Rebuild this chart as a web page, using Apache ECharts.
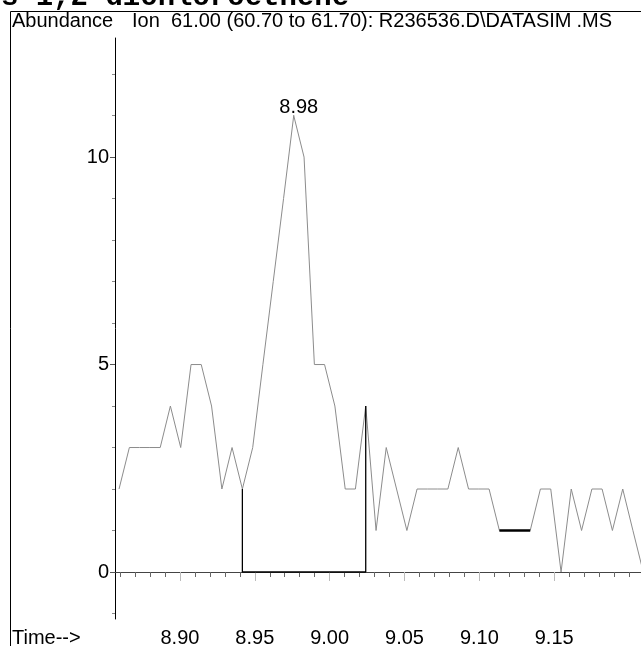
<!DOCTYPE html>
<html>
<head>
<meta charset="utf-8">
<script src="https://cdn.jsdelivr.net/npm/echarts@6/dist/echarts.min.js"></script>
<style>
  html, body { margin: 0; padding: 0; background: #fff; }
  #chart { width: 641px; height: 646px; }
</style>
</head>
<body>
<div id="chart"></div>
<script>
// Extracted ion chromatogram, m/z 61.00 (60.70 to 61.70)
const scanTimes = [
  8.8593, 8.8662, 8.8730, 8.8799, 8.8868, 8.8936, 8.9005, 8.9074, 8.9142, 8.9211,
  8.9280, 8.9348, 8.9417, 8.9486, 8.9554, 8.9623, 8.9692, 8.9760, 8.9829, 8.9898,
  8.9966, 9.0035, 9.0104, 9.0172, 9.0241, 9.0310, 9.0378, 9.0447, 9.0516, 9.0584,
  9.0653, 9.0722, 9.0790, 9.0859, 9.0928, 9.0996, 9.1065, 9.1134, 9.1202, 9.1271,
  9.1340, 9.1408, 9.1477, 9.1546, 9.1614, 9.1683, 9.1752, 9.1820, 9.1889, 9.1958,
  9.2026, 9.2095
];
const abundance = [
  2, 3, 3, 3, 3, 4, 3, 5, 5, 4,
  2, 3, 2, 3, 5, 7, 9, 11, 10, 5,
  5, 4, 2, 2, 4, 1, 3, 2, 1, 2,
  2, 2, 2, 3, 2, 2, 2, 1, 1, 1,
  1, 2, 2, 0, 2, 1, 2, 2, 1, 2,
  1, 0
];

// Integrated peak: start/end scan indices of the baseline drop lines
const peakStartIndex = 12;
const peakEndIndex = 24;
// Second baseline segment (small event after 9.10 min)
const minorStartIndex = 37;
const minorEndIndex = 40;

const xTickLabels = ['8.90', '8.95', '9.00', '9.05', '9.10', '9.15'];
const yTickLabels = [0, 5, 10];

const xMin = 8.8566, xMax = 9.2080;
const yMin = -1.133, yMax = 12.87;

const FONT = '"Liberation Sans", Arial, Helvetica, sans-serif';
const FS = 20;

const signal = scanTimes.map((t, i) => [t, abundance[i]]);

// apex of the peak carries its retention time as a label
let apex = 0;
abundance.forEach((v, i) => { if (v > abundance[apex]) apex = i; });

const baselineData = [
  [scanTimes[peakStartIndex], abundance[peakStartIndex]],
  [scanTimes[peakStartIndex], 0],
  [scanTimes[peakEndIndex], 0],
  [scanTimes[peakEndIndex], abundance[peakEndIndex]]
];
const minorBaseline = [
  [scanTimes[minorStartIndex], abundance[minorStartIndex]],
  [scanTimes[minorEndIndex], abundance[minorEndIndex]]
];

// tick positions every 0.01 min, and every unit of abundance
const xMinorTicks = [];
for (let k = 886; k <= 920; k++) xMinorTicks.push(k / 100);
const yMinorTicks = [];
for (let k = -1; k <= 12; k++) yMinorTicks.push(k);
const xMajorTicks = xTickLabels.map(Number);

const chart = echarts.init(document.getElementById('chart'), null, { renderer: 'canvas' });

chart.setOption({
  animation: false,
  backgroundColor: '#fff',
  grid: { left: 115, right: 0, top: 38, bottom: 27, containLabel: false, outerBoundsMode: 'none' },
  xAxis: [
    {
      type: 'value', min: xMin, max: xMax, position: 'bottom',
      axisLine: { show: true, lineStyle: { color: '#444', width: 1 } },
      axisTick: { show: true, length: 5, customValues: xMinorTicks,
        lineStyle: { color: '#666', width: 1 } },
      axisLabel: { show: false },
      splitLine: { show: false }
    },
    {
      type: 'value', min: xMin, max: xMax, position: 'bottom',
      axisLine: { show: false },
      axisTick: { show: true, length: 9, customValues: xMajorTicks,
        lineStyle: { color: '#bbb', width: 1 } },
      axisLabel: { show: true, customValues: xMajorTicks, margin: 9,
        formatter: v => v.toFixed(2), color: '#000', fontFamily: FONT, fontSize: FS },
      splitLine: { show: false }
    }
  ],
  yAxis: [
    {
      type: 'value', min: yMin, max: yMax,
      axisLine: { show: true, lineStyle: { color: '#000', width: 1 } },
      axisTick: { show: true, length: 3, customValues: yMinorTicks,
        lineStyle: { color: '#888', width: 1 } },
      axisLabel: { show: false },
      splitLine: { show: false }
    },
    {
      type: 'value', min: yMin, max: yMax, position: 'left',
      axisLine: { show: false },
      axisTick: { show: true, length: 5, customValues: yTickLabels,
        lineStyle: { color: '#555', width: 1 } },
      axisLabel: { show: true, customValues: yTickLabels, margin: 6,
        color: '#000', fontFamily: FONT, fontSize: FS },
      splitLine: { show: false }
    }
  ],
  series: [
    {
      type: 'line', xAxisIndex: 0, yAxisIndex: 0,
      data: signal, showSymbol: false, symbol: 'none',
      lineStyle: { color: '#8c8c8c', width: 1 },
      clip: true, z: 2
    },
    {
      type: 'line', xAxisIndex: 0, yAxisIndex: 0,
      data: baselineData, showSymbol: false, symbol: 'none',
      lineStyle: { color: '#000', width: 1.3 }, z: 3
    },
    {
      type: 'line', xAxisIndex: 0, yAxisIndex: 0,
      data: minorBaseline, showSymbol: false, symbol: 'none',
      lineStyle: { color: '#000', width: 2.5 }, z: 3
    },
    {
      type: 'scatter', xAxisIndex: 0, yAxisIndex: 0,
      data: [signal[apex]], symbolSize: 1,
      itemStyle: { color: '#8c8c8c', opacity: 1 },
      label: {
        show: true, position: 'top', distance: 1, offset: [5, 3],
        formatter: p => p.value[0].toFixed(2),
        color: '#000', opacity: 1, fontFamily: FONT, fontSize: FS
      },
      silent: true, z: 4
    }
  ],
  graphic: [
    { type: 'line', shape: { x1: 10.5, y1: 11.5, x2: 641, y2: 11.5 }, style: { stroke: '#000', lineWidth: 1 } },
    { type: 'line', shape: { x1: 10.5, y1: 11.5, x2: 10.5, y2: 646 }, style: { stroke: '#000', lineWidth: 1 } },
    { type: 'text', x: 1, y: 12, style: { text: 's 1,2-dichloroethene', fill: '#000',
        font: 'bold 29px "Liberation Mono", "Courier New", monospace',
        textAlign: 'left', textVerticalAlign: 'bottom' } },
    { type: 'text', x: 12, y: 21, style: { text: 'Abundance', fill: '#000',
        font: FS + 'px ' + FONT, textAlign: 'left', textVerticalAlign: 'middle' } },
    { type: 'text', x: 132, y: 21, style: {
        text: 'Ion  61.00 (60.70 to 61.70): R236536.D\\DATASIM{ext|.MS}', fill: '#000',
        font: FS + 'px ' + FONT, textAlign: 'left', textVerticalAlign: 'middle',
        rich: { ext: { fontSize: FS, fontFamily: FONT, fill: '#000', padding: [0, 0, 0, 5] } } } },
    { type: 'text', x: 12, y: 638, style: { text: 'Time-->', fill: '#000',
        font: FS + 'px ' + FONT, textAlign: 'left', textVerticalAlign: 'middle' } }
  ]
});
</script>
</body>
</html>
